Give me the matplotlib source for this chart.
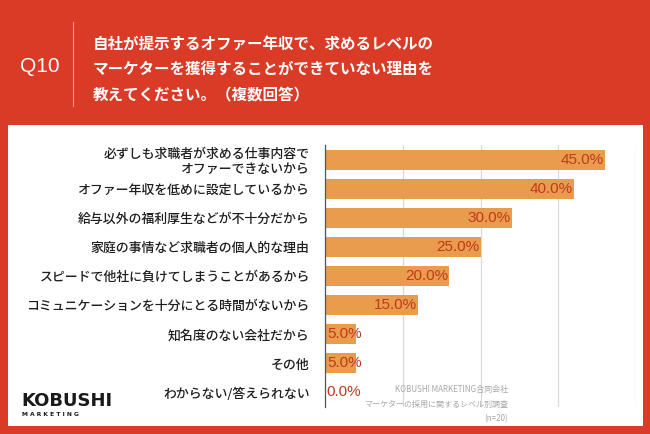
import matplotlib
matplotlib.use("Agg")
import matplotlib.pyplot as plt
from matplotlib.patches import Rectangle
from matplotlib.lines import Line2D

plt.rcParams['font.family'] = ['Noto Sans CJK JP', 'DejaVu Sans']

categories = [
    "必ずしも求職者が求める仕事内容で\nオファーできないから",
    "オファー年収を低めに設定しているから",
    "給与以外の福利厚生などが不十分だから",
    "家庭の事情など求職者の個人的な理由",
    "スピードで他社に負けてしまうことがあるから",
    "コミュニケーションを十分にとる時間がないから",
    "知名度のない会社だから",
    "その他",
    "わからない/答えられない",
]
values = [45.0, 40.0, 30.0, 25.0, 20.0, 15.0, 5.0, 5.0, 0.0]
value_labels = [f"{v:.1f}%" for v in values]
grid_ticks = [0, 12.5, 25, 37.5, 50]

title_q = "Q10"
title_lines = "自社が提示するオファー年収で、求めるレベルの\nマーケターを獲得することができていない理由を\n教えてください。（複数回答）"
source_lines = "KOBUSHI MARKETING合同会社\nマーケターの採用に関するレベル別調査\n(n=20)"

RED = "#D93B27"
BAR = "#E99C4C"
LBL = "#C0391F"
LATIN = ["Liberation Sans", "DejaVu Sans"]

W, H = 650, 434
fig = plt.figure(figsize=(W / 100, H / 100), dpi=100)
fig.patch.set_facecolor(RED)

def fx(px):
    return px / W

def fy(py):
    return 1 - py / H

# white panel
fig.add_artist(Rectangle((fx(8), fy(426)), fx(643) - fx(8), fy(125) - fy(426),
                         transform=fig.transFigure, facecolor="white", edgecolor="none", zorder=0))

# header
fig.text(fx(40), fy(67), title_q, color="white", fontsize=15, ha="center", va="center", family=LATIN)
fig.add_artist(Line2D([fx(73), fx(73)], [fy(22), fy(106)], transform=fig.transFigure,
                      color="#F0A090", lw=0.8))
fig.text(fx(93), fy(69), title_lines, color="white", fontsize=11.2, fontweight="bold",
         ha="left", va="center", linespacing=1.72)

# axes
ax = fig.add_axes([fx(325), fy(407), fx(636) - fx(325), fy(145) - fy(407)])
ax.set_facecolor("none")
y = list(range(len(categories)))
ax.barh(y, values, height=0.69, color=BAR, zorder=2)
ax.set_ylim(len(categories) - 0.5, -0.5)
ax.set_xlim(0, 50)
ax.set_xticks(grid_ticks)
ax.set_xticklabels([])
ax.tick_params(axis="x", length=0)
ax.tick_params(axis="y", length=0, pad=11)
ax.set_yticks(y)
ax.set_yticklabels(categories, fontsize=9.3, color="#1E1E1E", linespacing=1.2, fontweight="medium")
for lab in ax.get_yticklabels():
    lab.set_horizontalalignment("right")
ax.grid(axis="x", color="#D8D8D8", lw=0.9, zorder=0)
for s in ["top", "right", "bottom"]:
    ax.spines[s].set_visible(False)
ax.spines["left"].set_color("#555555")
ax.spines["left"].set_linewidth(0.9)
ax.spines["left"].set_zorder(3)

for yi, v, t in zip(y, values, value_labels):
    if v >= 10:
        ax.text(v - 0.2, yi, t, ha="right", va="center", fontsize=11, color=LBL, zorder=4, family=LATIN)
    else:
        ax.text(0.3, yi, t, ha="left", va="center", fontsize=11, color=LBL, zorder=4, family=LATIN)

# logo
fig.text(fx(21), fy(401), "KOBUSHI", fontsize=13, fontweight="bold", color="#1A1A1A",
         ha="left", va="center", family=["DejaVu Sans"])
fig.text(fx(22), fy(414), "M A R K E T I N G", fontsize=4.3, fontweight="bold", color="#1A1A1A",
         ha="left", va="center", family=["DejaVu Sans"])

# source
fig.text(fx(508), fy(404), source_lines, fontsize=5.8, color="#A8A8A8", ha="right", va="center",
         multialignment="right", linespacing=1.75)

fig.savefig("out.png", dpi=100, facecolor=RED)
